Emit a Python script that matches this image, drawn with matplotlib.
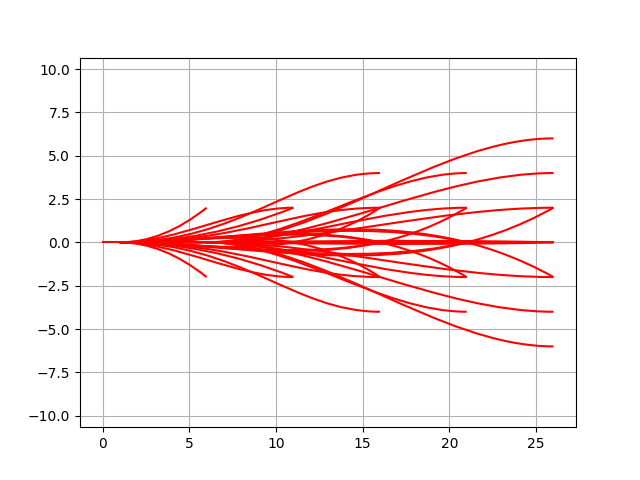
import matplotlib
matplotlib.use("Agg")
import matplotlib.pyplot as plt
from matplotlib.path import Path
from matplotlib.patches import PathPatch

# every branch is one cubic Bezier: 4 x control values and 4 y control values
# (upper branches first, then the lower ones)
curve_x = [
    (1, 2.67, 4.33, 6),
    (1, 4.33, 7.67, 11),
    (1, 4.33, 7.67, 11),
    (1, 8, 11, 16),
    (1, 8, 11, 16),
    (1, 6, 11, 16),
    (6, 11, 16, 21),
    (1, 7.67, 14.33, 21),
    (6, 12.67, 19.33, 26),
    (1, 9.33, 17.67, 26),
    (6, 11, 16, 21),
    (6, 12.67, 19.33, 26),
    (6, 12.67, 19.33, 26),
    # lower half
    (1, 2.67, 4.33, 6),
    (1, 4.33, 7.67, 11),
    (1, 4.33, 7.67, 11),
    (1, 8, 11, 16),
    (1, 8, 11, 16),
    (1, 6, 11, 16),
    (6, 11, 16, 21),
    (1, 7.67, 14.33, 21),
    (6, 12.67, 19.33, 26),
    (1, 9.33, 17.67, 26),
    (6, 11, 16, 21),
    (6, 12.67, 19.33, 26),
    (6, 12.67, 19.33, 26),
    # branches that come back to zero
    (1, 6, 11, 16),
    (1, 6, 11, 16),
    (1, 7.67, 14.33, 21),
    (1, 7.67, 14.33, 21),
    (1, 9.33, 17.67, 26),
    (1, 9.33, 17.67, 26),
]
curve_y = [
    (0, 0, 0.67, 2),
    (0, 0, 2, 2),
    (0, 0, 0.67, 2),
    (0, 0, 4, 4),
    (0, 0, 2, 2),
    (0, 0, -1.33, 2),
    (0, 0, 2, 2),
    (0, 0, -2, 2),
    (0, 0, 2, 2),
    (0, 0, -2.67, 2),
    (0, 0, 4, 4),
    (0, 0, 4, 4),
    (0, 0, 6, 6),
    # lower half
    (0, 0, -0.67, -2),
    (0, 0, -2, -2),
    (0, 0, -0.67, -2),
    (0, 0, -4, -4),
    (0, 0, -2, -2),
    (0, 0, 1.33, -2),
    (0, 0, -2, -2),
    (0, 0, 2, -2),
    (0, 0, -2, -2),
    (0, 0, 2.67, -2),
    (0, 0, -4, -4),
    (0, 0, -4, -4),
    (0, 0, -6, -6),
    # branches that come back to zero
    (0, 0, 1.0, 0),
    (0, 0, -1.0, 0),
    (0, 0, 1.5, 0),
    (0, 0, -1.5, 0),
    (0, 0, 0.2, 0),
    (0, 0, -0.2, 0),
]

# the trunk along zero
trunk_x = [0, 26]
trunk_y = [0, 0]

fig, ax = plt.subplots(figsize=(6.4, 4.8), dpi=100)

ax.plot(trunk_x, trunk_y, color="r", linewidth=1.5)

codes = [Path.MOVETO, Path.CURVE4, Path.CURVE4, Path.CURVE4]
for xs, ys in zip(curve_x, curve_y):
    path = Path(list(zip(xs, ys)), codes)
    patch = PathPatch(path, facecolor="none", edgecolor="r", linewidth=1.5, zorder=2)
    ax.add_patch(patch)

# equal scaling in both directions, as in the original
ax.set_xlim(-1.3, 27.3)
ax.set_ylim(-10.66, 10.66)
ax.grid(True)

plt.savefig("out.png", dpi=100)
